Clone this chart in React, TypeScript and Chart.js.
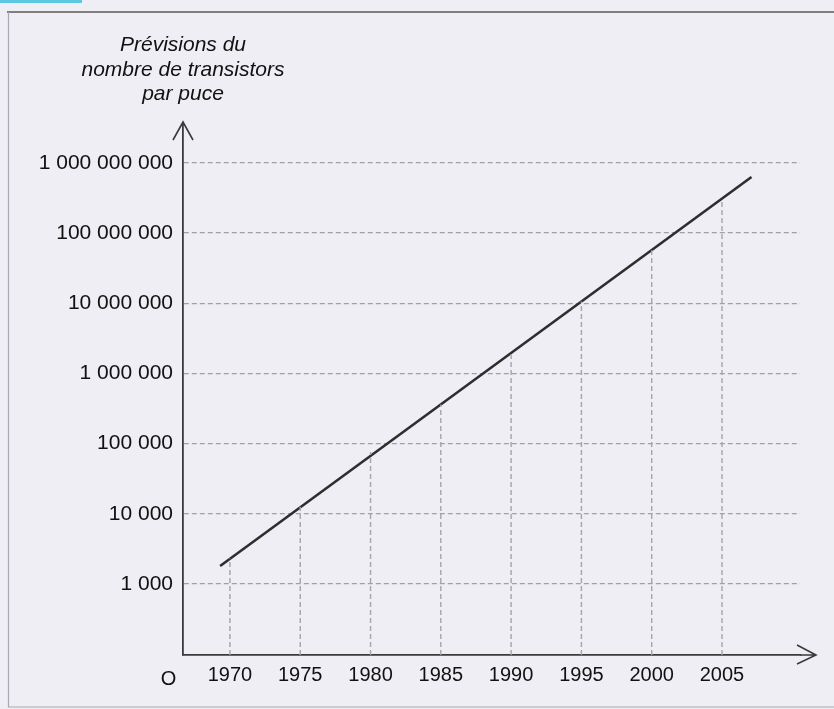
import React, { useEffect, useRef } from "react";
import { Chart, registerables } from "chart.js";

Chart.register(...registerables);

// ---- data ----
const trendYears = [1969.3, 2007.1];
const trendValues = [1800, 630000000];

const guideYears = [1970, 1975, 1980, 1985, 1990, 1995, 2000, 2005];
const guideTops = [2300, 12600, 76000, 360000, 1940000, 10600000, 57000000, 307000000];

const xTickValues = [1970, 1975, 1980, 1985, 1990, 1995, 2000, 2005];
const yTickValues = [1e3, 1e4, 1e5, 1e6, 1e7, 1e8, 1e9];
const yTickLabels = [
  "1 000",
  "10 000",
  "100 000",
  "1 000 000",
  "10 000 000",
  "100 000 000",
  "1 000 000 000",
];
const titleLines = ["Prévisions du", "nombre de transistors", "par puce"];
const originLabel = "O";

const X_MIN = 1966.66;
const X_MAX = 2010.55;
const Y_MIN = 97;
const Y_MAX = 3.48e9;

const FONT_FAMILY = '"Liberation Sans", Arial, Helvetica, sans-serif';
const TEXT_COLOR = "#111111";

const decorPlugin = {
  id: "decor",
  beforeDraw(chart: any) {
    const ctx = chart.ctx;
    const w = chart.width;
    const h = chart.height;
    ctx.save();
    ctx.fillStyle = "#eeeef4";
    ctx.fillRect(0, 0, w, h);
    // cyan scan mark
    ctx.fillStyle = "#5cc8e4";
    ctx.fillRect(0, 0, 82, 3);
    // frame
    ctx.strokeStyle = "#5a5a5a";
    ctx.lineWidth = 1.5;
    ctx.beginPath();
    ctx.moveTo(7, 12);
    ctx.lineTo(w, 12);
    ctx.stroke();
    ctx.strokeStyle = "#a8a8b0";
    ctx.lineWidth = 1.2;
    ctx.beginPath();
    ctx.moveTo(8.5, 12);
    ctx.lineTo(8.5, 707);
    ctx.lineTo(w, 707);
    ctx.stroke();
    ctx.restore();
  },
  afterDraw(chart: any) {
    const ctx = chart.ctx;
    const { left, right, bottom, top } = chart.chartArea;
    ctx.save();
    ctx.strokeStyle = "#3a3a3a";
    ctx.lineWidth = 1.6;
    // y axis arrow
    ctx.beginPath();
    ctx.moveTo(left, top);
    ctx.lineTo(left, top - 3);
    ctx.moveTo(left - 10, top + 15);
    ctx.lineTo(left, top - 3);
    ctx.lineTo(left + 10, top + 15);
    ctx.stroke();
    // x axis arrow
    ctx.beginPath();
    ctx.moveTo(right, bottom);
    ctx.lineTo(816, bottom);
    ctx.moveTo(797, bottom - 10);
    ctx.lineTo(816, bottom);
    ctx.lineTo(797, bottom + 9);
    ctx.stroke();
    // title
    ctx.fillStyle = TEXT_COLOR;
    ctx.font = `italic 21px ${FONT_FAMILY}`;
    ctx.textAlign = "center";
    ctx.textBaseline = "alphabetic";
    const baselines = [51, 76, 100];
    titleLines.forEach((t, i) => ctx.fillText(t, left, baselines[i]));
    // origin
    ctx.font = `20px ${FONT_FAMILY}`;
    ctx.fillText(originLabel, 168.5, 684.5);
    ctx.restore();
  },
};

export default function App() {
  const canvasRef = useRef<HTMLCanvasElement | null>(null);

  useEffect(() => {
    const canvas = canvasRef.current;
    if (!canvas) return;

    const guideData: any[] = [];
    guideYears.forEach((yr, i) => {
      guideData.push({ x: yr, y: Y_MIN });
      guideData.push({ x: yr, y: guideTops[i] });
      guideData.push({ x: yr, y: null });
    });

    const trendData = trendYears.map((yr, i) => ({ x: yr, y: trendValues[i] }));

    const chart = new Chart(canvas, {
      type: "line",
      data: {
        datasets: [
          {
            label: "guides",
            data: guideData,
            borderColor: "#a4a4aa",
            borderWidth: 1.4,
            borderDash: [5, 3],
            pointRadius: 0,
            spanGaps: false,
            fill: false,
          },
          {
            label: "Prévisions",
            data: trendData,
            borderColor: "#2e2e2e",
            borderWidth: 2.6,
            pointRadius: 0,
            fill: false,
          },
        ],
      },
      plugins: [decorPlugin],
      options: {
        animation: false,
        responsive: false,
        devicePixelRatio: 1,
        layout: { padding: { top: 125, right: 34, left: 0, bottom: 0 } },
        plugins: {
          legend: { display: false },
          tooltip: { enabled: false },
          title: { display: false },
        },
        scales: {
          x: {
            type: "linear",
            min: X_MIN,
            max: X_MAX,
            afterBuildTicks: (scale: any) => {
              scale.ticks = xTickValues.map((v) => ({ value: v }));
            },
            afterFit: (scale: any) => {
              scale.height = 54;
            },
            grid: { display: false, drawTicks: false },
            border: { display: true, color: "#3a3a3a", width: 1.8 },
            ticks: {
              color: TEXT_COLOR,
              font: { family: FONT_FAMILY, size: 20 },
              padding: 8,
              maxRotation: 0,
              autoSkip: false,
              callback: (v: any) => String(v),
            },
          },
          y: {
            type: "logarithmic",
            min: Y_MIN,
            max: Y_MAX,
            afterBuildTicks: (scale: any) => {
              scale.ticks = yTickValues.map((v) => ({ value: v }));
            },
            afterFit: (scale: any) => {
              scale.width = 183;
            },
            grid: {
              display: true,
              color: "#a0a0a6",
              lineWidth: 1.3,
              drawTicks: false,
            },
            border: { display: true, color: "#3a3a3a", width: 1.8, dash: [5, 3] as any },
            ticks: {
              color: TEXT_COLOR,
              font: { family: FONT_FAMILY, size: 21 },
              padding: 10,
              autoSkip: false,
              callback: (v: any) => {
                const idx = yTickValues.findIndex(
                  (t) => Math.abs(Math.log10(t) - Math.log10(Number(v))) < 1e-6
                );
                return idx >= 0 ? yTickLabels[idx] : "";
              },
            },
          },
        },
      } as any,
    });

    return () => chart.destroy();
  }, []);

  return (
    <div
      style={{
        position: "fixed",
        top: 0,
        left: 0,
        width: 834,
        height: 709,
        background: "#eeeef4",
      }}
    >
      <canvas ref={canvasRef} width={834} height={709} style={{ display: "block" }} />
    </div>
  );
}
